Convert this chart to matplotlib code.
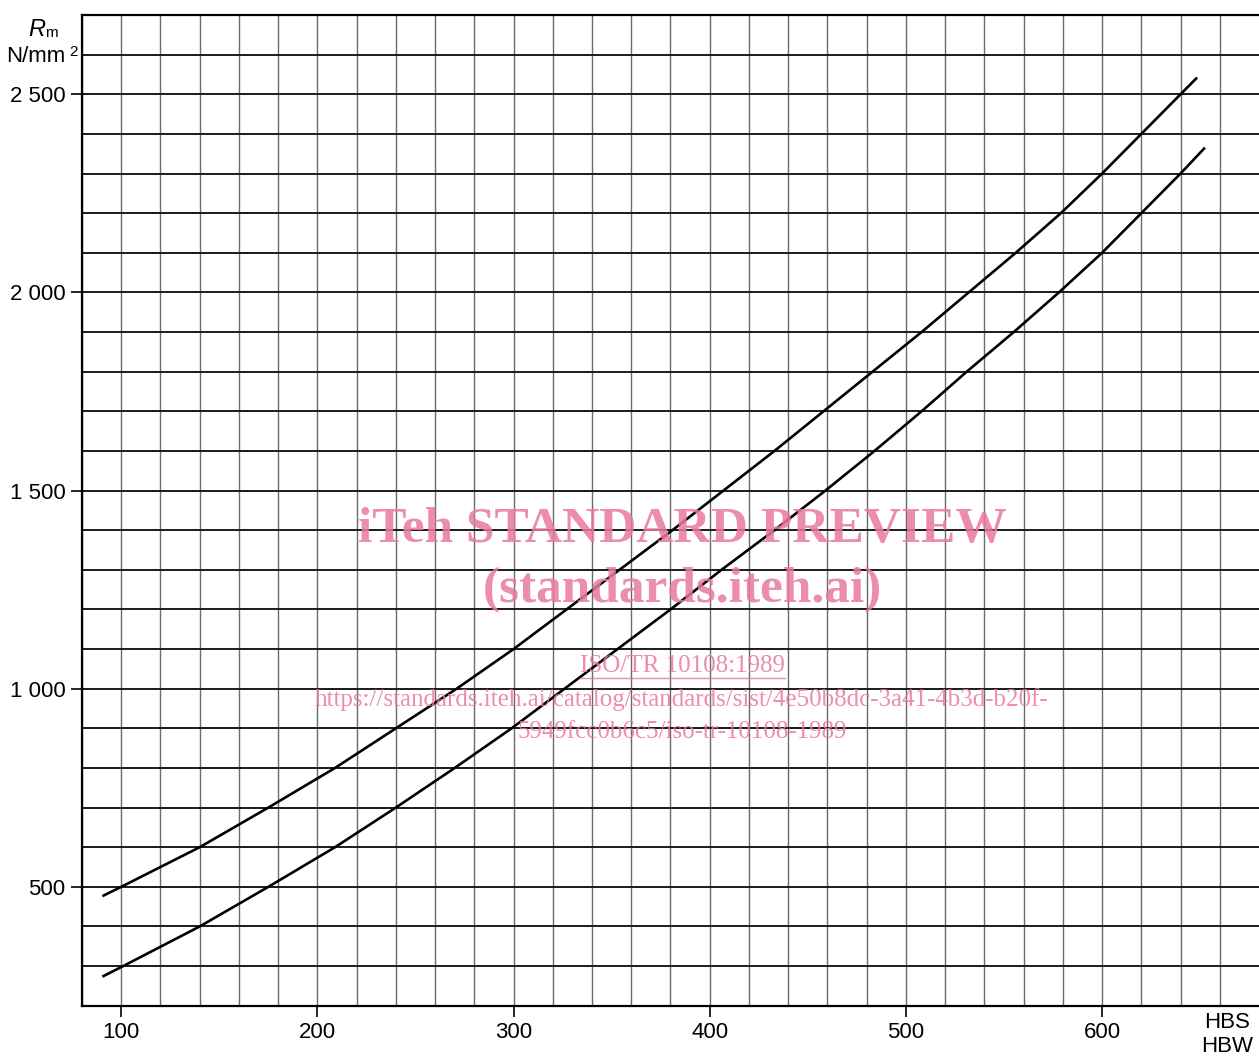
import numpy as np
import matplotlib
matplotlib.use('Agg')
import matplotlib.pyplot as plt

plt.rcParams['font.family'] = ['Liberation Sans', 'DejaVu Sans']

# upper curve
hb_upper = [91, 100, 140, 175, 209, 240, 271, 300, 327, 354, 381, 407, 433, 458,
            483, 508, 532, 556, 579, 600, 620, 648]
rm_upper = [478, 500, 600, 700, 800, 900, 1000, 1100, 1200, 1300, 1400, 1500, 1600, 1700,
            1800, 1900, 2000, 2100, 2200, 2300, 2400, 2540]

# lower curve
hb_lower = [91, 101, 140, 175, 209, 240, 270, 299, 326, 353, 380, 406, 433, 459,
            484, 508, 531, 555, 578, 600, 620, 640, 652]
rm_lower = [275, 300, 400, 500, 600, 700, 800, 900, 1000, 1100, 1200, 1300, 1400, 1500,
            1600, 1700, 1800, 1900, 2000, 2100, 2200, 2300, 2363]

x_ticks = [100, 200, 300, 400, 500, 600]
y_ticks = [500, 1000, 1500, 2000, 2500]
y_labels = ['500', '1 000', '1 500', '2 000', '2 500']

fig = plt.figure(figsize=(12.59, 10.59), dpi=100)
ax = fig.add_axes([0.0651, 0.0503, 1.0 - 0.0651, 0.9858 - 0.0503])

ax.set_xlim(80, 680)
ax.set_ylim(200, 2700)

ax.set_xticks(x_ticks)
ax.set_yticks(y_ticks)
ax.set_yticklabels(y_labels)

ax.tick_params(which='major', direction='out', length=8, width=1.2, color='black',
               labelsize=16, pad=4)

# vertical grid grey, horizontal grid dark
for x in np.arange(80, 661, 20):
    ax.axvline(x, color='#6a6a6a', lw=1.0, zorder=1)
for y in np.arange(200, 2701, 100):
    ax.axhline(y, color='#1a1a1a', lw=1.4, zorder=1)

ax.plot(hb_upper, rm_upper, color='black', lw=1.9, zorder=3)
ax.plot(hb_lower, rm_lower, color='black', lw=1.9, zorder=3)

for side in ['left', 'bottom', 'top']:
    ax.spines[side].set_linewidth(1.6)
ax.spines['right'].set_visible(False)

# axis captions
fig.text(37 / 1259, 1 - 29 / 1059, 'R', fontsize=17, style='italic', ha='center', va='center')
fig.text(51 / 1259, 1 - 33 / 1059, 'm', fontsize=11, ha='center', va='center')
fig.text(36 / 1259, 1 - 56 / 1059, 'N/mm', fontsize=16, ha='center', va='center')
fig.text(73 / 1259, 1 - 52 / 1059, '2', fontsize=11, ha='center', va='center')
fig.text(1227 / 1259, 1 - 1022 / 1059, 'HBS', fontsize=16, ha='center', va='center')
fig.text(1227 / 1259, 1 - 1047 / 1059, 'HBW', fontsize=16, ha='center', va='center')

# watermark
pink = '#e9799b'
wm = dict(family=['Liberation Serif', 'DejaVu Serif'], color=pink, alpha=0.85,
          ha='center', va='center', zorder=5)
fig.text(682 / 1259, 1 - 530 / 1059, 'iTeh STANDARD PREVIEW', fontsize=37,
         fontweight='bold', **wm)
fig.text(682 / 1259, 1 - 590 / 1059, '(standards.iteh.ai)', fontsize=37,
         fontweight='bold', **wm)
fig.text(682 / 1259, 1 - 666 / 1059, 'ISO/TR 10108:1989', fontsize=18, **wm)
fig.add_artist(plt.Line2D([580 / 1259, 785 / 1259], [1 - 678 / 1059, 1 - 678 / 1059],
                          color=pink, lw=1, alpha=0.85))
fig.text(682 / 1259, 1 - 700 / 1059,
         'https://standards.iteh.ai/catalog/standards/sist/4e50b8dc-3a41-4b3d-b20f-',
         fontsize=18, **wm)
fig.text(682 / 1259, 1 - 732 / 1059, '5949fcc0b6c5/iso-tr-10108-1989', fontsize=18, **wm)

fig.savefig('out.png', dpi=100)
